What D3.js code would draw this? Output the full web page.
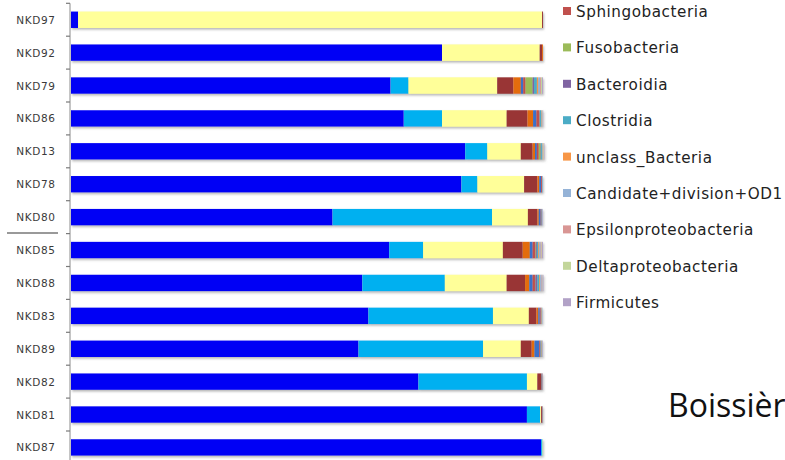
<!DOCTYPE html>
<html><head><meta charset="utf-8">
<script src="https://cdn.jsdelivr.net/npm/d3@7"></script>
<style>html,body{margin:0;padding:0;background:#fff;overflow:hidden}</style>
</head><body><div id="chart"></div>
<script>
// Sample categories (top to bottom)
const categories = ["NKD97","NKD92","NKD79","NKD86","NKD13","NKD78","NKD80","NKD85","NKD88","NKD83","NKD89","NKD82","NKD81","NKD87"];

// Series (stack order left to right). First six legend entries are cropped out of view in the reference.
const seriesNames = ["Class A","Class B","Class C","Class D","Class E","Class F",
  "Sphingobacteria","Fusobacteria","Bacteroidia","Clostridia","unclass_Bacteria",
  "Candidate+division+OD1","Epsilonproteobacteria","Deltaproteobacteria","Firmicutes"];
const seriesColors = ["#0000f5","#00b0f0","#ffff99","#993535","#e36c0a","#3a6fc8",
  "#c0504d","#9bbb59","#8064a2","#4bacc6","#f79646","#95b3d7","#d99694","#c3d69b","#b2a2c7"];

// Relative abundance (%) per sample, one array per series, in category order
const sA = [1.5, 78.6, 67.7, 70.5, 83.5, 82.7, 55.4, 67.4, 61.7, 63.0, 60.9, 73.6, 96.6, 99.6];
const sB = [0.0,  0.0,  3.8,  8.1,  4.7,  3.4, 33.8,  7.2, 17.5, 26.4, 26.4, 23.0,  2.8,  0.3];
const sC = [98.3, 20.7, 18.8, 13.7,  7.1,  9.9,  7.6, 16.9, 13.1,  7.6,  8.0,  2.2,  0.2,  0.1];
const sD = [0.2,  0.5,  3.4,  4.4,  2.5,  2.8,  2.0,  4.2,  3.9,  1.6,  2.3,  0.8,  0.3,  0.0];
const sE = [0.0,  0.2,  1.6,  1.2,  0.5,  0.4,  0.3,  1.5,  0.9,  0.4,  0.6,  0.1,  0.0,  0.0];
const sF = [0.0,  0.0,  0.5,  0.7,  0.4,  0.4,  0.4,  0.6,  0.7,  0.3,  1.0,  0.1,  0.0,  0.0];
const sSphingo = [0.0, 0.0, 0.5, 0.55, 0.4, 0.2, 0.2, 0.6, 0.5, 0.2, 0.2, 0.1, 0.0, 0.0];
const sFuso    = [0.0, 0.0, 1.5, 0.1, 0.4, 0.0, 0.0, 0.1, 0.1, 0.0, 0.0, 0.0, 0.0, 0.0];
const sBactero = [0.0, 0.0, 0.3, 0.1, 0.1, 0.0, 0.0, 0.2, 0.4, 0.1, 0.1, 0.0, 0.0, 0.0];
const sClostr  = [0.0, 0.0, 0.6, 0.3, 0.2, 0.1, 0.1, 0.3, 0.4, 0.1, 0.2, 0.0, 0.0, 0.0];
const sUnclass = [0.0, 0.0, 0.3, 0.1, 0.1, 0.0, 0.0, 0.2, 0.2, 0.1, 0.1, 0.0, 0.0, 0.0];
const sCandOD1 = [0.0, 0.0, 0.4, 0.1, 0.1, 0.1, 0.1, 0.3, 0.3, 0.1, 0.1, 0.1, 0.1, 0.0];
const sEpsilon = [0.0, 0.0, 0.2, 0.05, 0.1, 0.0, 0.0, 0.2, 0.1, 0.0, 0.0, 0.0, 0.0, 0.0];
const sDelta   = [0.0, 0.0, 0.2, 0.05, 0.1, 0.0, 0.0, 0.1, 0.1, 0.0, 0.0, 0.0, 0.0, 0.0];
const sFirmic  = [0.0, 0.0, 0.2, 0.1, 0.1, 0.0, 0.1, 0.2, 0.2, 0.0, 0.1, 0.0, 0.0, 0.0];
const seriesValues = [sA,sB,sC,sD,sE,sF,sSphingo,sFuso,sBactero,sClostr,sUnclass,sCandOD1,sEpsilon,sDelta,sFirmic];

const sideText = "Boissièr";

const W = 785, H = 460;
const svg = d3.select("#chart").append("svg").attr("width", W).attr("height", H);

const defs = svg.append("defs");
const f = defs.append("filter").attr("id","sh").attr("x","-5%").attr("y","-30%").attr("width","110%").attr("height","180%");
f.append("feDropShadow").attr("dx",1).attr("dy",1.6).attr("stdDeviation",0.9).attr("flood-color","#777").attr("flood-opacity",0.55);

const rows = categories.map((c, i) => {
  const o = {cat: c};
  seriesNames.forEach((s, j) => o[s] = seriesValues[j][i]);
  return o;
});
const stacked = d3.stack().keys(seriesNames)(rows);

const x = d3.scaleLinear().domain([0, 100]).range([71, 543]);
const y = d3.scaleBand().domain(categories).range([3.3, 463.9]).paddingInner(0.5).paddingOuter(0.25);
const step = y.step();

// bars
const barsG = svg.append("g");
categories.forEach((c, i) => {
  const g = barsG.append("g").attr("filter","url(#sh)");
  stacked.forEach((layer, j) => {
    const d = layer[i];
    const w = x(d[1]) - x(d[0]);
    if (w <= 0) return;
    g.append("rect")
      .attr("x", x(d[0])).attr("y", y(c))
      .attr("width", w).attr("height", y.bandwidth())
      .attr("fill", seriesColors[j]);
  });
});

// axis line and ticks
const axisX = 70;
svg.append("line").attr("x1", axisX).attr("x2", axisX).attr("y1", 3.3).attr("y2", H)
  .attr("stroke", "#8a8a8a").attr("stroke-width", 1);
categories.forEach(c => {
  const ty = y(c) - step * 0.25;
  svg.append("line").attr("x1", axisX - 4).attr("x2", axisX).attr("y1", ty).attr("y2", ty)
    .attr("stroke", "#7a7a7a").attr("stroke-width", 1.2);
});
// labels
svg.append("g").selectAll("text").data(categories).join("text")
  .attr("x", 55.5).attr("y", d => y(d) + y.bandwidth() / 2 + 4)
  .attr("text-anchor", "end")
  .attr("font-family", "DejaVu Sans").attr("font-size", 10.5)
  .attr("letter-spacing", 0.6)
  .attr("fill", "#3a3a3a").text(d => d);

// stray separator line at left
svg.append("line").attr("x1", 7).attr("x2", 58).attr("y1", 233).attr("y2", 233)
  .attr("stroke", "#777").attr("stroke-width", 1.3);

// legend (visible part)
const legendItems = seriesNames.slice(6).map((n, k) => ({name: n, color: seriesColors[k + 6]}));
const lg = svg.append("g");
legendItems.forEach((it, k) => {
  const by = 17 + k * 36.4;
  lg.append("rect").attr("x", 563).attr("y", by - 10).attr("width", 8).attr("height", 8).attr("fill", it.color);
  lg.append("text").attr("x", 576).attr("y", by)
    .attr("font-family", "DejaVu Sans").attr("font-size", 15.2)
    .attr("letter-spacing", 0.55)
    .attr("fill", "#222").text(it.name);
});

svg.append("text").attr("x", 668).attr("y", 417)
  .attr("font-family", "Open Sans").attr("font-size", 32)
  .attr("fill", "#111").text(sideText);
</script>
</body></html>
